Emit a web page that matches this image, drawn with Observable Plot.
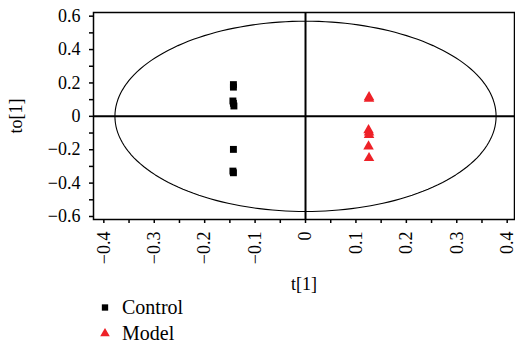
<!DOCTYPE html>
<html>
<head>
<meta charset="utf-8">
<script src="https://cdn.jsdelivr.net/npm/d3@7"></script>
<script src="https://cdn.jsdelivr.net/npm/@observablehq/plot@0.6"></script>
<style>
  html, body { margin: 0; padding: 0; background: #fff; }
  html body *, html body svg text, html body svg tspan { font-family: 'Liberation Serif', serif !important; }
</style>
</head>
<body>
<div id="wrap" style="position:relative;width:515px;height:347px;"></div>
<script>
// Score data (t[1] predictive, to[1] orthogonal)
const controlT  = [-0.143, -0.143, -0.144, -0.143, -0.142, -0.143, -0.144, -0.143];
const controlTo = [0.190, 0.175, 0.092, 0.078, 0.062, -0.198, -0.328, -0.338];
const modelT    = [0.126, 0.126, 0.125, 0.126, 0.126, 0.125, 0.126];
const modelTo   = [0.115, 0.106, -0.083, -0.097, -0.111, -0.180, -0.250];

// Hotelling T2 ellipse semi-axes
const ellipseA = 0.378;
const ellipseB = 0.570;

// Ticks
const xMajorTicks = [-0.4, -0.3, -0.2, -0.1, 0, 0.1, 0.2, 0.3, 0.4];
const xMinorTicks = [-0.35, -0.25, -0.15, -0.05, 0.05, 0.15, 0.25, 0.35];
const yMajorTicks = [-0.6, -0.4, -0.2, 0, 0.2, 0.4, 0.6];
const yMinorTicks = [-0.5, -0.3, -0.1, 0.1, 0.3, 0.5];

const groups = ["Control", "Model"];
const groupColors = ["#000000", "#ee2128"];
const groupSymbols = ["square", "triangle"];

const points = [
  ...controlT.map((t, i) => ({t, to: controlTo[i], g: "Control"})),
  ...modelT.map((t, i) => ({t, to: modelTo[i], g: "Model"}))
];
const ellipse = d3.range(0, 361, 2).map(a => ({
  t: ellipseA * Math.cos(a * Math.PI / 180),
  to: ellipseB * Math.sin(a * Math.PI / 180)
}));

const fmt = d => d === 0 ? "0" : (d < 0 ? "\u2212" : "") + Math.abs(d).toFixed(1);
const serif = "'Liberation Serif', serif";

const plot = Plot.plot({
  width: 515,
  height: 294,
  marginLeft: 93,
  marginRight: 1,
  marginTop: 12,
  marginBottom: 75,
  style: {fontSize: "18px", color: "#000", background: "#fff", overflow: "visible"},
  x: {domain: [-0.4205, 0.4145]},
  y: {domain: [-0.618, 0.622]},
  symbol: {domain: groups, range: groupSymbols},
  color: {domain: groups, range: groupColors},
  marks: [
    Plot.line(ellipse, {x: "t", y: "to", stroke: "#000", strokeWidth: 1.1}),
    Plot.ruleX([0], {stroke: "#000", strokeWidth: 2}),
    Plot.ruleY([0], {stroke: "#000", strokeWidth: 2}),
    Plot.dot(points, {x: "t", y: "to", symbol: "g", fill: "g", r: 3.9, stroke: "none"}),
    Plot.frame({stroke: "#000", strokeWidth: 1.5}),
    Plot.axisX(xMinorTicks, {tickSize: 4, tickFormat: () => "", strokeWidth: 1.5, label: null}),
    Plot.axisX(xMajorTicks, {tickSize: 4, tickFormat: fmt, tickRotate: -90, tickPadding: 8, strokeWidth: 1.5,
      fontSize: 18, label: "t[1]", labelAnchor: "center", labelArrow: "none", labelOffset: 70}),
    Plot.axisY(yMinorTicks, {tickSize: 4, tickFormat: () => "", strokeWidth: 1.5, label: null}),
    Plot.axisY(yMajorTicks, {tickSize: 4, tickFormat: fmt, tickPadding: 9, strokeWidth: 1.5,
      fontSize: 18, label: "to[1]", labelAnchor: "center", labelArrow: "none", labelOffset: 84})
  ]
});
plot.style.position = "absolute";
plot.style.left = "0px";
plot.style.top = "0px";
plot.setAttribute("font-family", serif);
plot.querySelectorAll("[font-family]").forEach(el => el.setAttribute("font-family", serif));
plot.querySelectorAll("text, tspan").forEach(el => {
  el.setAttribute("font-family", serif);
  el.style.setProperty("font-family", serif, "important");
});
const wrap = document.getElementById("wrap");
wrap.appendChild(plot);

// Legend below the SVG
groups.forEach((g, i) => {
  const row = document.createElement("div");
  row.style.cssText = "position:absolute;left:100px;top:" + (294 + i * 26) + "px;height:26px;display:flex;align-items:center;font-size:20px;color:#000;";
  const s = d3.create("svg").attr("width", 10).attr("height", 10).style("margin-right", "12px");
  s.append("path")
    .attr("transform", "translate(5,5.5)")
    .attr("d", d3.symbol(groupSymbols[i] === "square" ? d3.symbolSquare : d3.symbolTriangle, 40)())
    .attr("fill", groupColors[i]);
  row.appendChild(s.node());
  const sp = document.createElement("span");
  sp.textContent = g;
  sp.style.setProperty("font-family", serif, "important");
  row.appendChild(sp);
  wrap.appendChild(row);
});
</script>
</body>
</html>
